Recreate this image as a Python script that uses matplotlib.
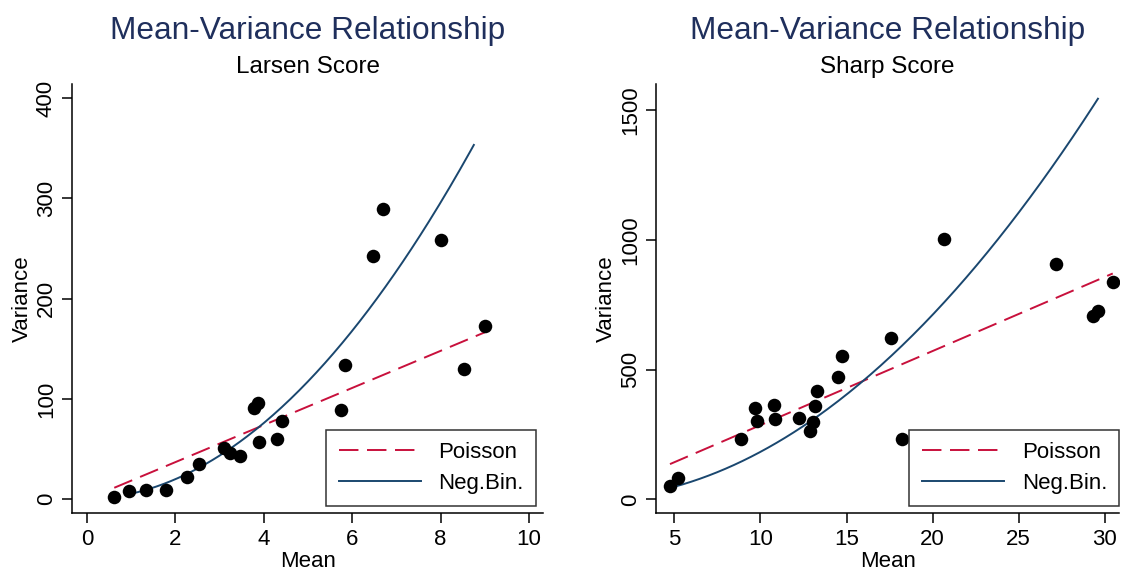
import numpy as np
import matplotlib
matplotlib.use("Agg")
import matplotlib.pyplot as plt

plt.rcParams['font.family'] = ['Liberation Sans', 'DejaVu Sans']

# Larsen score: per-subject mean and variance
larsen_mean = [0.62, 0.96, 1.33, 1.78, 2.27, 2.53, 3.09, 3.24, 3.47, 3.77, 3.88,
               3.89, 4.31, 4.41, 5.74, 5.84, 6.47, 6.70, 8.00, 8.53, 9.00]
larsen_var = [2.3, 8, 9.3, 9.3, 22, 35, 51, 46, 43, 91, 96,
              57, 60.5, 78, 89, 134, 242.5, 289, 258.5, 130, 173]

# Sharp score
sharp_mean = [4.75, 5.23, 8.87, 9.71, 9.78, 10.77, 10.85, 12.26, 12.90, 13.04, 13.17,
              13.29, 14.51, 14.74, 17.60, 18.20, 20.68, 27.17, 29.33, 29.59, 30.46]
sharp_var = [51, 83, 232, 351, 302, 364, 310, 312, 265, 298, 360,
             416, 473, 551, 621, 232, 1005, 909, 708, 727, 837]

# fitted variance functions: Poisson (phi*mu) and Neg.Bin. (mu + alpha*mu^2)
larsen_phi, larsen_alpha = 18.5, 4.5
sharp_phi, sharp_alpha = 28.6, 1.73
larsen_nb_range = (0.96, 8.75)
sharp_nb_range = (5.0, 29.6)

title_color = '#1f2f5c'
pois_color = '#c8103c'
nb_color = '#1a476f'


def panel(ax, mean, var, phi, alpha, nb_range, subtitle, xlim, ylim, xticks, yticks):
    mean = np.asarray(mean)
    ax.scatter(mean, var, s=95, color='black', zorder=3, linewidths=0)
    mu = np.array([mean.min(), mean.max()])
    ax.plot(mu, phi * mu, color=pois_color, lw=1.4, dashes=(10, 4.4), label='Poisson')
    grid = np.linspace(nb_range[0], nb_range[1], 200)
    ax.plot(grid, grid + alpha * grid ** 2, color=nb_color, lw=1.4, label='Neg.Bin.')
    ax.set_xlim(*xlim)
    ax.set_ylim(*ylim)
    ax.set_xticks(xticks)
    ax.set_yticks(yticks)
    for s in ('top', 'right'):
        ax.spines[s].set_visible(False)
    for s in ('left', 'bottom'):
        ax.spines[s].set_linewidth(1.1)
    ax.tick_params(direction='out', length=7, width=1.1, labelsize=16, pad=4)
    for lbl in ax.get_yticklabels():
        lbl.set_rotation(90)
        lbl.set_va('center')
    ax.set_xlabel('Mean', fontsize=16, labelpad=1)
    ax.set_ylabel('Variance', fontsize=16, labelpad=2)
    ax.text(0.5, 1.124, 'Mean-Variance Relationship', transform=ax.transAxes,
            ha='center', va='center', fontsize=22.8, color=title_color)
    ax.text(0.5, 1.040, subtitle, transform=ax.transAxes,
            ha='center', va='center', fontsize=17.5)
    leg = ax.legend(loc='lower right', bbox_to_anchor=(0.985, 0.017), fontsize=16,
                    fancybox=False, framealpha=1, edgecolor='#333333',
                    handlelength=3.7, handletextpad=0.8, borderpad=0.55,
                    labelspacing=0.45, borderaxespad=0)
    leg.get_frame().set_linewidth(1.1)


fig = plt.figure(figsize=(11.22, 5.72), dpi=100)
ax1 = fig.add_axes([0.0644, 0.1026, 0.4198, 0.7505])
ax2 = fig.add_axes([0.5847, 0.1026, 0.4129, 0.7505])

panel(ax1, larsen_mean, larsen_var, larsen_phi, larsen_alpha, larsen_nb_range,
      'Larsen Score', (-0.33, 10.32), (-14, 414), [0, 2, 4, 6, 8, 10], [0, 100, 200, 300, 400])
panel(ax2, sharp_mean, sharp_var, sharp_phi, sharp_alpha, sharp_nb_range,
      'Sharp Score', (3.94, 30.84), (-54, 1602), [5, 10, 15, 20, 25, 30], [0, 500, 1000, 1500])
ax2.get_legend().set_bbox_to_anchor((1.0, 0.017), transform=ax2.transAxes)

fig.savefig('out.png', dpi=100)
